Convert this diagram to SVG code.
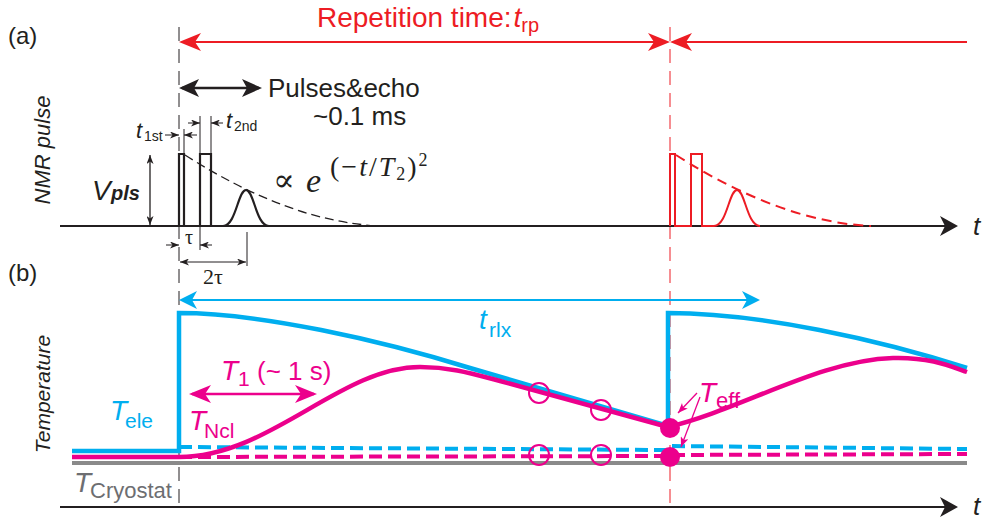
<svg xmlns="http://www.w3.org/2000/svg" width="987" height="520" viewBox="0 0 987 520">
<defs>
<style>
text{font-family:"Liberation Sans","Noto Sans",sans-serif;}
.it{font-style:italic;}
.red{fill:#ED1C24;}
.blue{fill:#00AEEF;}
.mag{fill:#EC008C;}
.blk{fill:#231F20;}
.gry{fill:#6D6E71;}
.serif{font-family:"Liberation Serif","DejaVu Serif",serif;}
.dim{stroke:#231F20;stroke-width:1;fill:none;}
</style>
<marker id="aRed" viewBox="0 0 22 18" refX="19" refY="9" markerWidth="22" markerHeight="18" markerUnits="userSpaceOnUse" orient="auto-start-reverse"><path d="M22,9 L0,0 L6,9 L0,18 Z" fill="#ED1C24"/></marker>
<marker id="aBlk" viewBox="0 0 18 20" refX="15" refY="10" markerWidth="18" markerHeight="20" markerUnits="userSpaceOnUse" orient="auto-start-reverse"><path d="M18,10 L0,0 L5,10 L0,20 Z" fill="#231F20"/></marker>
<marker id="aBlkM" viewBox="0 0 20 18" refX="17" refY="9" markerWidth="20" markerHeight="18" markerUnits="userSpaceOnUse" orient="auto-start-reverse"><path d="M20,9 L0,0 L5,9 L0,18 Z" fill="#231F20"/></marker>
<marker id="aBlue" viewBox="0 0 18 18" refX="15" refY="9" markerWidth="18" markerHeight="18" markerUnits="userSpaceOnUse" orient="auto-start-reverse"><path d="M18,9 L0,0 L5,9 L0,18 Z" fill="#00AEEF"/></marker>
<marker id="aMag" viewBox="0 0 22 18" refX="19" refY="9" markerWidth="22" markerHeight="18" markerUnits="userSpaceOnUse" orient="auto-start-reverse"><path d="M22,9 L0,0 L6,9 L0,18 Z" fill="#EC008C"/></marker>
<marker id="aSm" viewBox="0 0 9 7" refX="9" refY="3.5" markerWidth="9" markerHeight="7" markerUnits="userSpaceOnUse" orient="auto-start-reverse"><path d="M9,3.5 L0,0 L2.5,3.5 L0,7 Z" fill="#231F20"/></marker>
<marker id="aSmMag" viewBox="0 0 10 8" refX="10" refY="4" markerWidth="10" markerHeight="8" markerUnits="userSpaceOnUse" orient="auto"><path d="M10,4 L0,0 L2.5,4 L0,8 Z" fill="#EC008C"/></marker>
<path id="pulse" d="M179,226 V154 H184 V226 H200 V154 H211 V226 H223 C236,226 238,190 246,190 C254,190 256,226 269,226"/>
<path id="env" d="M185,155 Q290,222 380,226"/>
</defs>

<g id="panel-labels">
<text x="8" y="44" font-size="24" class="blk">(a)</text>
<text x="8" y="281" font-size="24" class="blk">(b)</text>
<text class="it blk" font-size="22" text-anchor="middle" transform="translate(50,150) rotate(-90)">NMR pulse</text>
<text class="it blk" font-size="21" text-anchor="middle" transform="translate(50,394) rotate(-90)">Temperature</text>
</g>

<g id="guides">
<line x1="179" y1="27" x2="179" y2="510" stroke="#231F20" stroke-width="1" stroke-dasharray="14 8"/>
<line x1="670" y1="27" x2="670" y2="510" stroke="#ED1C24" stroke-width="1" stroke-dasharray="14 8"/>
</g>

<g id="axes">
<line x1="60" y1="226" x2="955" y2="226" stroke="#231F20" stroke-width="2" marker-end="url(#aBlk)"/>
<text x="973" y="235" font-size="26" class="it blk">t</text>
<line x1="60" y1="507" x2="955" y2="507" stroke="#231F20" stroke-width="2" marker-end="url(#aBlk)"/>
<text x="973" y="515" font-size="26" class="it blk">t</text>
</g>

<g id="repetition">
<line x1="182" y1="42" x2="667" y2="42" stroke="#ED1C24" stroke-width="2" marker-start="url(#aRed)" marker-end="url(#aRed)"/>
<line x1="673" y1="42" x2="967" y2="42" stroke="#ED1C24" stroke-width="2" marker-start="url(#aRed)"/>
<text x="317" y="27" font-size="28" class="red">Repetition time:<tspan class="it" dx="2">t</tspan><tspan font-size="20" dy="5">rp</tspan></text>
</g>

<g id="pulses-echo">
<line x1="182" y1="88" x2="259" y2="88" stroke="#231F20" stroke-width="2.5" marker-start="url(#aBlkM)" marker-end="url(#aBlkM)"/>
<text x="268" y="97" font-size="26" class="blk">Pulses&amp;echo</text>
<text x="313" y="125" font-size="26" class="blk">~0.1 ms</text>
</g>

<g id="pulse-first">
<use href="#pulse" fill="none" stroke="#231F20" stroke-width="2.2"/>
<use href="#env" fill="none" stroke="#231F20" stroke-width="1.3" stroke-dasharray="9 5"/>
</g>
<g id="pulse-second" transform="translate(491,0)">
<use href="#pulse" fill="none" stroke="#ED1C24" stroke-width="2"/>
<use href="#env" fill="none" stroke="#ED1C24" stroke-width="2" stroke-dasharray="10 6"/>
</g>

<g id="dimensions">
<line x1="184" y1="153" x2="184" y2="129" class="dim"/>
<line x1="165" y1="135" x2="179" y2="135" class="dim" marker-end="url(#aSm)"/>
<line x1="197" y1="135" x2="184" y2="135" class="dim" marker-end="url(#aSm)"/>
<text x="136" y="138" font-size="22" class="it blk">t</text><text x="144" y="141" font-size="14" class="blk">1st</text>
<line x1="200" y1="153" x2="200" y2="116" class="dim"/>
<line x1="211" y1="153" x2="211" y2="116" class="dim"/>
<line x1="188" y1="123" x2="200" y2="123" class="dim" marker-end="url(#aSm)"/>
<line x1="223" y1="123" x2="211" y2="123" class="dim" marker-end="url(#aSm)"/>
<text x="226" y="128" font-size="22" class="it blk">t</text><text x="234" y="131" font-size="14" class="blk">2nd</text>
<line x1="150" y1="155" x2="150" y2="225" stroke="#231F20" stroke-width="1.3" marker-start="url(#aSm)" marker-end="url(#aSm)"/>
<text x="92" y="200" font-size="28" class="it blk">V</text><text x="111" y="200" font-size="20" font-weight="bold" class="it blk">pls</text>
<line x1="200" y1="226" x2="200" y2="250" class="dim"/>
<line x1="166" y1="245" x2="179" y2="245" class="dim" marker-end="url(#aSm)"/>
<line x1="212" y1="245" x2="200" y2="245" class="dim" marker-end="url(#aSm)"/>
<text x="185" y="244" font-size="20" class="serif blk">τ</text>
<line x1="247" y1="232" x2="247" y2="266" class="dim"/>
<line x1="180" y1="262" x2="246" y2="262" class="dim" marker-start="url(#aSm)" marker-end="url(#aSm)"/>
<text x="203" y="284" font-size="22" class="serif blk">2τ</text>
</g>

<g id="formula" class="blk">
<text x="273" y="191" font-size="32" style="font-family:'DejaVu Serif',serif">∝</text>
<text x="306" y="192" font-size="34" class="it serif">e</text>
<text x="330" y="176" font-size="28" letter-spacing="2" class="serif">(−<tspan class="it">t</tspan>/<tspan class="it">T</tspan><tspan font-size="18" dy="4">2</tspan><tspan dy="-4">)</tspan><tspan font-size="18" dy="-10">2</tspan></text>
</g>

<g id="temperature-curves">
<line x1="72" y1="463" x2="967" y2="463" stroke="#8A8A8A" stroke-width="4"/>
<path d="M179,447 L668,450 M672,446 L967,449" stroke="#00AEEF" stroke-width="4" stroke-dasharray="13 6" fill="none"/>
<path d="M179,457 L668,456 M672,455 L967,454" stroke="#EC008C" stroke-width="4" stroke-dasharray="13 6" fill="none"/>
<path id="t-ele-1" d="M72,451 L179,451 L179,313 C260,313 380,340 470,368 L668,426" stroke="#00AEEF" stroke-width="4.5" fill="none"/>
<path id="t-ele-2" d="M668,426 L668,313 C760,313 880,340 967,368" stroke="#00AEEF" stroke-width="4.5" fill="none"/>
<path id="t-ncl-1" d="M72,457 L179,457 C270,457 340,367 420,367 C450,367 470,373 500,381 L668,427" stroke="#EC008C" stroke-width="4.5" fill="none"/>
<path id="t-ncl-2" d="M668,427 C740,410 820,360 893,358 C930,357 950,366 967,372" stroke="#EC008C" stroke-width="4.5" fill="none"/>
</g>

<g id="markers-points" stroke="#EC008C" stroke-width="2" fill="none">
<circle cx="539" cy="393" r="10"/>
<circle cx="601" cy="410" r="10"/>
<circle cx="539" cy="455" r="10"/>
<circle cx="601" cy="455" r="10"/>
<circle cx="670" cy="428" r="10" fill="#EC008C" stroke="none"/>
<circle cx="670" cy="457" r="10" fill="#EC008C" stroke="none"/>
</g>

<g id="connectors">
<line x1="182" y1="300" x2="757" y2="300" stroke="#00AEEF" stroke-width="2" marker-start="url(#aBlue)" marker-end="url(#aBlue)"/>
<line x1="192" y1="394" x2="314" y2="394" stroke="#EC008C" stroke-width="2.5" marker-start="url(#aMag)" marker-end="url(#aMag)"/>
<line x1="697" y1="393" x2="678" y2="413" stroke="#EC008C" stroke-width="1.3" marker-end="url(#aSmMag)"/>
<line x1="700" y1="397" x2="681" y2="447" stroke="#EC008C" stroke-width="1.3" marker-end="url(#aSmMag)"/>
</g>

<g id="curve-labels">
<text x="479" y="329" font-size="28" class="it blue">t</text><text x="489" y="337" font-size="21" class="blue">rlx</text>
<text x="110" y="420" font-size="28" class="it blue">T</text><text x="125" y="428" font-size="21" class="blue">ele</text>
<text x="189" y="430" font-size="28" class="it mag">T</text><text x="204" y="438" font-size="21" class="mag">Ncl</text>
<text x="221" y="380" font-size="28" class="it mag">T</text><text x="238" y="386" font-size="21" class="mag">1</text><text x="257" y="380" font-size="26" class="mag">(~ 1 s)</text>
<text x="699" y="402" font-size="28" class="it mag">T</text><text x="716" y="408" font-size="22" class="mag">eff</text>
<text x="74" y="492" font-size="28" class="it gry">T</text><text x="90" y="498" font-size="22" class="gry">Cryostat</text>
</g>
</svg>
